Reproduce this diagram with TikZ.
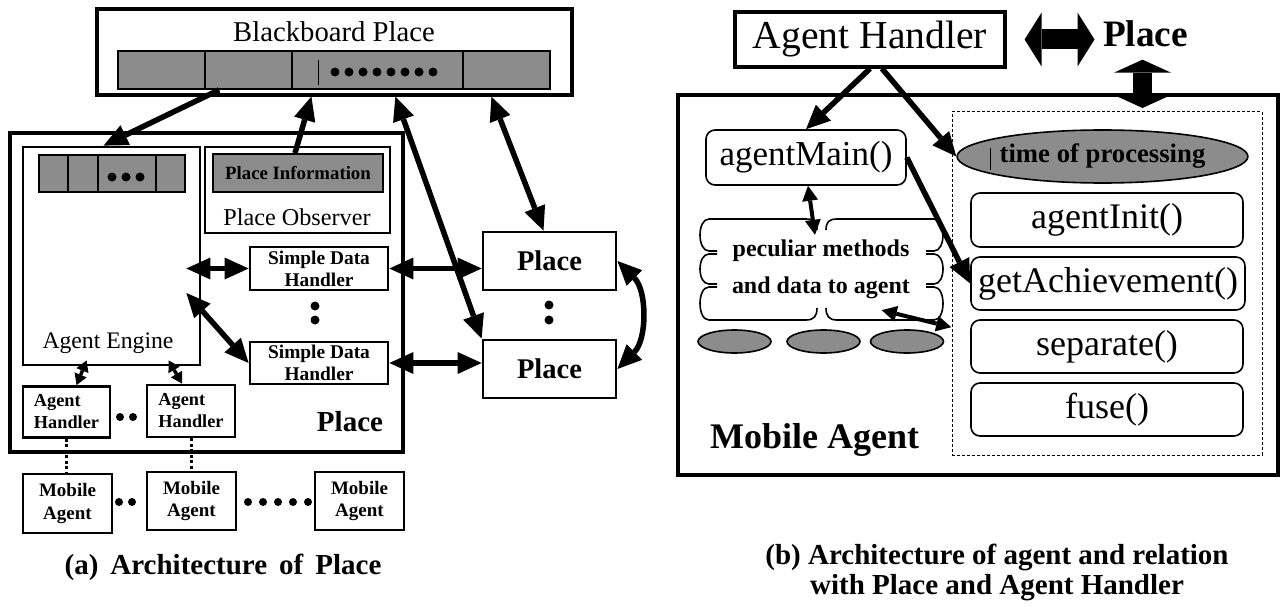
\documentclass[tikz,border=0pt]{standalone}
\usepackage{fontspec}
\setmainfont{Liberation Serif}
\usetikzlibrary{arrows.meta,shapes.geometric}
\newcommand{\fsz}[2]{\fontsize{#1}{#2}\selectfont}

\begin{document}
\begin{tikzpicture}[x=1pt,y=1pt,
  box/.style={draw,line width=2.8pt,inner sep=1pt,align=center},
  bar/.style={draw,line width=1.8pt,fill=black!45,inner sep=0pt},
  rbox/.style={draw,line width=1.6pt,rounded corners=9pt,inner sep=1pt,font=\fsz{36}{40}},
  blob/.style={ellipse,draw,line width=1.6pt,fill=black!45,inner sep=0pt},
  arr/.style={line width=5.5pt,-{Triangle[length=24pt,width=22pt,line width=0pt]}},
  darr/.style={line width=5.5pt,{Triangle[length=24pt,width=22pt,line width=0pt]}-{Triangle[length=24pt,width=22pt,line width=0pt]}},
  sdarr/.style={line width=4pt,{Triangle[length=15pt,width=16pt,line width=0pt]}-{Triangle[length=15pt,width=16pt,line width=0pt]}},
  tdarr/.style={line width=3.5pt,{Triangle[length=11pt,width=13pt,line width=0pt]}-{Triangle[length=11pt,width=13pt,line width=0pt]}},
  dotline/.style={line width=3pt,dash pattern=on 3pt off 2.5pt}]
\useasboundingbox (0,0) rectangle (1282,-607);
% (a) architecture of place
\node[box,line width=3.2pt,minimum width=475pt,minimum height=86pt] (bb) at (334.5,-52) {};
\node[font=\fsz{28.7}{32}] (bbtitle) at (334,-32) {Blackboard Place};
\node[bar,minimum width=432pt,minimum height=38pt] (bbbar) at (334,-70) {};
\foreach \x in {205,292,463} \draw[line width=1.8pt] (\x,-51) -- (\x,-89);
\draw[line width=0.8pt] (318,-60) -- (318,-85);
\foreach \x in {335,349,...,435} \fill (\x,-72) circle (4.5);
\node[box,line width=3.2pt,minimum width=393pt,minimum height=319pt] (place) at (206.5,-292.5) {};
\node[box,minimum width=177pt,minimum height=218pt] (engine) at (111.5,-256) {};
\node[font=\fsz{23.7}{28}] (enginet) at (108,-343) {Agent Engine};
\node[bar,minimum width=146pt,minimum height=37pt] (ebar) at (112,-173.5) {};
\foreach \x in {68,98,156} \draw[line width=1.8pt] (\x,-155) -- (\x,-192);
\foreach \x in {112,126,140} \fill (\x,-177) circle (4.5);
\node[box,minimum width=185pt,minimum height=86pt] (observer) at (297.5,-190) {};
\node[font=\fsz{24.2}{28}] (observert) at (297,-217) {Place Observer};
\node[bar,minimum width=170pt,minimum height=38pt,font=\bfseries\fsz{18.8}{22}] (info) at (298,-173) {Place Information};
\node[box,minimum width=138pt,minimum height=43pt,font=\bfseries\fsz{19.4}{22}] (sdh1) at (319,-268.5) {Simple Data\\Handler};
\node[box,minimum width=138pt,minimum height=42pt,font=\bfseries\fsz{19.4}{22}] (sdh2) at (319,-363) {Simple Data\\Handler};
\fill (315,-306) circle (4.5) (315,-320) circle (4.5);
\node[box,align=left,minimum width=87pt,minimum height=51pt,font=\bfseries\fsz{18.3}{22}] (ah1) at (66.5,-412) {Agent\\Handler};
\node[box,align=left,minimum width=88pt,minimum height=52pt,font=\bfseries\fsz{18.3}{22}] (ah2) at (191,-411) {Agent\\Handler};
\fill (120,-417) circle (4) (133,-417) circle (4);
\node[font=\bfseries\fsz{29}{32}] (placet) at (350,-422) {Place};
\node[box,minimum width=89pt,minimum height=59pt,font=\bfseries\fsz{19}{22}] (ma1) at (67.5,-503.5) {Mobile\\Agent};
\node[box,minimum width=89pt,minimum height=58pt,font=\bfseries\fsz{19}{22}] (ma2) at (191.5,-501) {Mobile\\Agent};
\node[box,minimum width=89pt,minimum height=58pt,font=\bfseries\fsz{19}{22}] (ma3) at (359.5,-501) {Mobile\\Agent};
\fill (119,-502) circle (4) (132,-502) circle (4);
\foreach \x in {248,263,278,293,308} \fill (\x,-502) circle (4);
\node[box,minimum width=133pt,minimum height=58pt,font=\bfseries\fsz{28.5}{32}] (p1) at (549.5,-261) {Place};
\node[box,minimum width=133pt,minimum height=58pt,font=\bfseries\fsz{28.5}{32}] (p2) at (549.5,-369) {Place};
\fill (549,-305) circle (4.5) (549,-320) circle (4.5);
\node[font=\bfseries\fsz{29}{34}] (capa) at (223,-567) {(a)\hspace{12pt}Architecture\hspace{12pt}of\hspace{12pt}Place};
\draw[arr] ([xshift=102pt]bbbar.south west) -- ([xshift=82pt]engine.north west);
\draw[arr] ([xshift=-3pt]info.north) -- ([xshift=216pt]bb.south west);
\draw[darr] ([xshift=300pt]bb.south west) -- (p2.north west);
\draw[darr] ([xshift=396pt]bb.south west) -- ([xshift=-6pt]p1.north);
\draw[darr] ([xshift=-15pt]engine.east |- sdh1.west) -- (sdh1.west);
\draw[darr] ([xshift=-15pt,yshift=-37pt]engine.east) -- (sdh2.west);
\draw[darr] (sdh1.east) -- (sdh1.east -| p1.west);
\draw[darr] (sdh2.east) -- (sdh2.east -| p2.west);
\draw[darr] (p1.east) to[bend left=45] (p2.east);
\draw[tdarr] ([xshift=65pt,yshift=6pt]engine.south west) -- ([xshift=10pt]ah1.north);
\draw[tdarr] ([xshift=147pt,yshift=6pt]engine.south west) -- ([xshift=-9pt]ah2.north);
\draw[dotline] (ah1.south) -- (ah1.south |- ma1.north);
\draw[dotline] (ah2.south) -- (ah2.south |- ma2.north);
% (b) agent and its relations
\node[box,line width=3.2pt,minimum width=270pt,minimum height=55pt,font=\fsz{39.6}{44}] (rah) at (870,-39.5) {Agent Handler};
\node[font=\bfseries\fsz{37.3}{40}] (rplace) at (1145.5,-34) {Place};
\node[draw,line width=4pt,minimum width=600pt,minimum height=380pt] (magent) at (978,-285) {};
\node[font=\bfseries\fsz{36}{40}] (magentt) at (814.5,-440) {Mobile Agent};
\node[draw,line width=1pt,densely dashed,minimum width=310pt,minimum height=343pt] (inner) at (1107,-283.5) {};
\draw[line width=20pt,{Triangle[length=17pt,width=54pt,line width=0pt]}-{Triangle[length=17pt,width=54pt,line width=0pt]},shorten <=18pt,shorten >=5pt] (rah.east) -- (rah.east -| rplace.west);
\draw[line width=19pt,{Triangle[length=13pt,width=57pt,line width=0pt]}-{Triangle[length=13pt,width=57pt,line width=0pt]},shorten <=9pt] ([xshift=-3pt]rplace.south) -- ([xshift=-3pt,yshift=-15pt]rplace.south |- magent.north);
\node[blob,minimum width=281pt,minimum height=53pt,font=\bfseries\fsz{26.7}{30}] (tproc) at (1102.5,-156.5) {time of processing};
\draw[line width=0.8pt] (990,-148) -- (990,-170);
\node[rbox,minimum width=272pt,minimum height=54pt] (ainit) at (1107,-220) {agentInit()};
\node[rbox,minimum width=274pt,minimum height=53pt] (getach) at (1108,-283.5) {getAchievement()};
\node[rbox,minimum width=272pt,minimum height=53pt] (separate) at (1107,-346.5) {separate()};
\node[rbox,minimum width=272pt,minimum height=53pt] (fuse) at (1107,-409.5) {fuse()};
\node[rbox,minimum width=200pt,minimum height=55pt,font=\fsz{35}{40}] (amain) at (806,-157.5) {agentMain()};
\node[minimum width=247pt,minimum height=102pt,align=center,font=\bfseries\fsz{24}{37}] (cloud) at (821,-269) {peculiar methods\\and data to agent};
\draw[line width=1.6pt]
  (817,-230) .. controls (817,-222) and (814,-219) .. (806,-219) -- (709,-219)
  .. controls (697,-219) and (697,-251) .. (709,-251) -- (717,-251)
  (717,-254) -- (709,-254) .. controls (697,-254) and (697,-284) .. (709,-284) -- (717,-284)
  (717,-287) -- (709,-287) .. controls (697,-287) and (697,-320) .. (709,-320) -- (806,-320)
  .. controls (814,-320) and (817,-316) .. (817,-308)
  (826,-230) .. controls (826,-222) and (829,-219) .. (837,-219) -- (934,-219)
  .. controls (946,-219) and (946,-251) .. (934,-251) -- (926,-251)
  (926,-254) -- (934,-254) .. controls (946,-254) and (946,-284) .. (934,-284) -- (926,-284)
  (926,-287) -- (934,-287) .. controls (946,-287) and (946,-320) .. (934,-320) -- (837,-320)
  .. controls (829,-320) and (826,-316) .. (826,-308);
\foreach \n/\x in {1/734.5,2/823.5,3/907} \node[blob,minimum width=73pt,minimum height=23pt] (m\n) at (\x,-341.5) {};
\draw[arr] (rah.south) -- (amain.north);
\draw[arr] ([xshift=12pt]rah.south) -- (tproc.west);
\draw[arr] (amain.east) -- (getach.west);
\draw[sdarr] ([xshift=2pt]amain.south) -- ([xshift=-6pt,yshift=-17pt]cloud.north);
\draw[sdarr] ([xshift=-63pt,yshift=10pt]cloud.south east) -- ([xshift=-19pt,yshift=-8pt]separate.north west);
\node[font=\bfseries\fsz{29}{30},align=center] (capb) at (997,-572) {(b) Architecture of agent and relation\\with Place and Agent Handler};
\end{tikzpicture}
\end{document}
